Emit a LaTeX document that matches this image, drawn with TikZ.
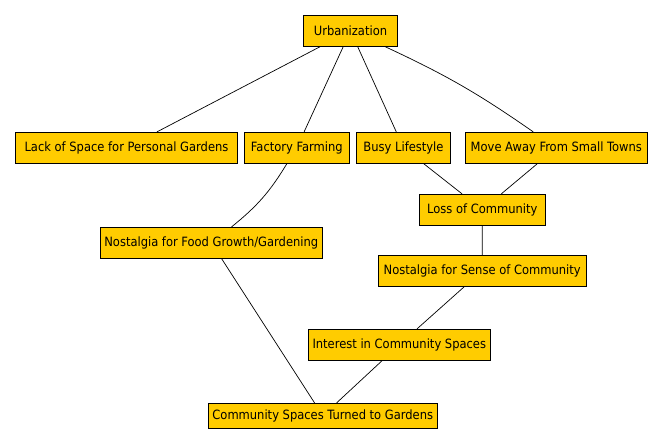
\documentclass[tikz,border=0pt]{standalone}
\usepackage{fontspec}
\setmainfont{DejaVu Sans Condensed}
\definecolor{amarillo}{RGB}{255,204,0}
\begin{document}
\begin{tikzpicture}[x=1pt,y=-1pt,
  caja/.style={draw,line width=0.9pt,fill=amarillo,inner sep=0pt,minimum height=31pt,
    font=\fontsize{12.8}{14}\selectfont},
  liga/.style={line width=0.7pt}]
\useasboundingbox (0,0) rectangle (663,443);

\node[caja,minimum width=94.4pt] (urb) at (350.5,30.8) {Urbanization};

\node[caja,minimum width=222.4pt] (lack) at (126.5,147.8) {Lack of Space for Personal Gardens};
\node[caja,minimum width=105pt] (factory) at (296.8,147.8) {Factory Farming};
\node[caja,minimum width=93.6pt] (busy) at (403.5,147.8) {Busy Lifestyle};
\node[caja,minimum width=182pt] (move) at (556.3,147.8) {Move Away From Small Towns};

\node[caja,minimum width=126pt] (loss) at (482.3,209.8) {Loss of Community};
\node[caja,minimum width=222pt,minimum height=30.7pt] (nfood) at (211.3,242.7) {Nostalgia for Food Growth/Gardening};
\node[caja,minimum width=207.7pt,minimum height=30.7pt] (nsense) at (482.2,270.7) {Nostalgia for Sense of Community};
\node[caja,minimum width=182pt,minimum height=30.7pt] (interest) at (399.3,344.7) {Interest in Community Spaces};
\node[caja,minimum width=229pt,minimum height=24.7pt] (gardens) at (322.8,415.7) {Community Spaces Turned to Gardens};

\draw[liga] (urb) -- (lack);
\draw[liga] (urb) -- (factory);
\draw[liga] (urb) -- (busy);
\draw[liga] (urb) to[bend left=5] (move);
\draw[liga] (busy) -- (loss);
\draw[liga] (move) -- (loss);
\draw[liga] (loss) -- (nsense);
\draw[liga] (factory) to[bend left=10] (nfood);
\draw[liga] (nfood) -- (gardens);
\draw[liga] (nsense) -- (interest);
\draw[liga] (interest) -- (gardens);
\end{tikzpicture}
\end{document}
